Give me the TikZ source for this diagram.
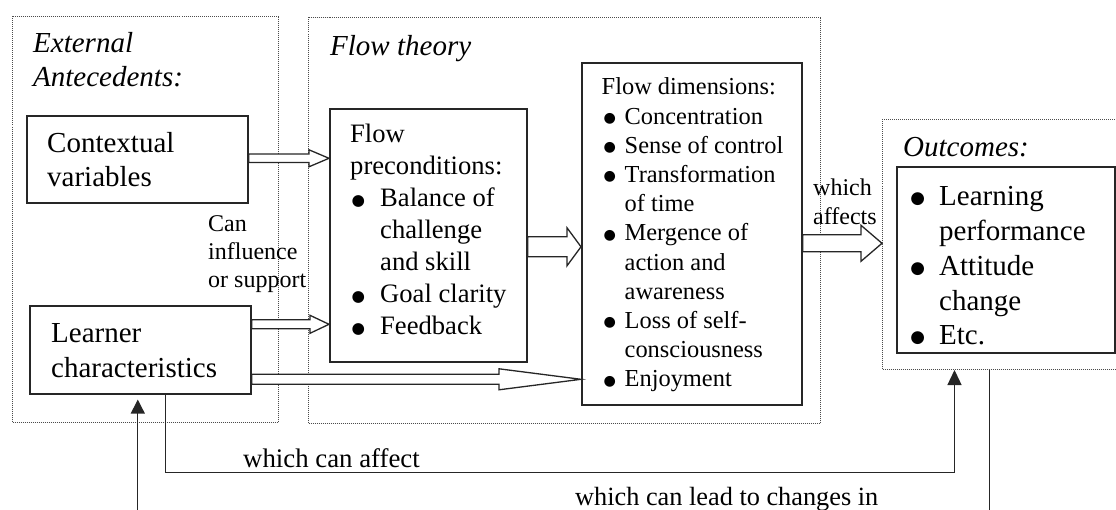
\documentclass[tikz,border=0pt]{standalone}
\usepackage{fontspec}
\setmainfont{Liberation Serif}
\newfontfamily\symfont{DejaVu Sans}
\usetikzlibrary{arrows.meta,calc}

% font size helper
\newcommand\fsz[2]{\fontsize{#1}{#2}\selectfont}
% left-aligned stack of lines, baseline at the first line
\newcommand\stack[1]{\begin{tabular}[t]{@{}l@{}}#1\end{tabular}}
% a large list bullet
\newcommand\bigdot{\raisebox{0.07em}{\symfont\fontsize{0.58em}{0.58em}\selectfont ●}}
% bullet list: #1 bullet column width, #2 bullet shift, #3 rows
\newcommand\blist[3]{{\def\bu{\hspace*{#2}\bigdot}%
  \begin{tabular}[t]{@{}p{#1}@{}l@{}}#3\end{tabular}}}
\newcommand\hd[1]{\multicolumn{2}{@{}l@{}}{#1}}

\tikzset{
  box/.style={draw=black!85, line width=1.6pt, inner sep=0pt, anchor=north west},
  grp/.style={draw=black!70, line width=1pt, dash pattern=on 1pt off 1pt,
              inner sep=0pt, anchor=north west},
  txt/.style={inner sep=0pt, anchor=base west},
  conn/.style={draw=black!85, line width=1.3pt},
  % hollow block arrow: shaft half-height, head half-height, head length
  barrow/.style n args={3}{draw=black!85, line width=1.3pt, fill=white,
    to path={let \p1=(\tikztostart), \p2=(\tikztotarget) in
      (\x1,\y1+#1) -- (\x2-#3,\y1+#1) -- (\x2-#3,\y1+#2) -- (\x2,\y1)
      -- (\x2-#3,\y1-#2) -- (\x2-#3,\y1-#1) -- (\x1,\y1-#1) -- cycle}},
}

\begin{document}
\begin{tikzpicture}[x=1pt, y=-1pt]
\useasboundingbox (0,0) rectangle (1116,510);
\clip (0,0) rectangle (1116,510);

% dotted groups
\node[grp, minimum width=266pt, minimum height=406pt] (ext)  at (12,16)  {};
\node[grp, minimum width=512pt, minimum height=406pt] (flo)  at (308,17) {};
\node[grp, minimum width=243pt, minimum height=250pt] (outg) at (882,119) {};

% solid boxes
\node[box, minimum width=221pt, minimum height=87pt]  (ctx) at (26,115) {};
\node[box, minimum width=221pt, minimum height=88pt]  (lrn) at (29,305) {};
\node[box, minimum width=197pt, minimum height=253pt] (pre) at (329,108) {};
\node[box, minimum width=220pt, minimum height=342pt] (dim) at (581,62) {};
\node[box, minimum width=218pt, minimum height=186pt] (out) at (896,166) {};

% block arrows
\draw[barrow={4.2}{8.5}{20}]  ([yshift=1pt]ctx.east)     to (pre.west);
\draw[barrow={4.5}{9}{19}]    ([yshift=25.5pt]lrn.east)  to (pre.west);
\draw[barrow={10}{19}{14}]    ([yshift=-11.5pt]pre.east) to (dim.west);
\draw[barrow={5}{10.5}{82}]   ([yshift=-29.5pt]lrn.east) to (dim.west);
\draw[barrow={8.5}{18}{21}]   ([yshift=-9.5pt]dim.east)  to (outg.west);

% feedback lines
\draw[conn, -{Triangle[length=15pt,width=14pt]}]
  ([xshift=25.5pt]lrn.south) -- ++(0,78) -| ([xshift=-49.5pt]outg.south);
\draw[conn, -{Triangle[length=14pt,width=14pt]}, shorten >=5pt]
  ([xshift=-14.5pt]outg.south) -- ++(0,150) -| ([xshift=-2.5pt]lrn.south);

% headings
\node[txt, font=\fsz{29}{34}\itshape] (extT) at (33,53)  {\stack{External\\Antecedents:}};
\node[txt, font=\fsz{29}{34}\itshape] (floT) at (330,56) {Flow theory};
\node[txt, font=\fsz{29}{34}\itshape] (outH) at (903,157) {Outcomes:};

% box texts
\node[txt, font=\fsz{29}{34}] (ctxT) at (47,153) {\stack{Contextual\\variables}};
\node[txt, font=\fsz{29}{35}] (lrnT) at (51,343) {\stack{Learner\\characteristics}};
\node[txt, font=\fsz{26.6}{32}] (preT) at (350,143)
  {\blist{30pt}{1.3pt}{\hd{Flow}\\ \hd{preconditions:}\\
   \bu & Balance of\\ & challenge\\ & and skill\\
   \bu & Goal clarity\\ \bu & Feedback}};
\node[txt, font=\fsz{24.4}{29.2}] (dimT) at (601.5,95)
  {\blist{23pt}{1.8pt}{\hd{Flow dimensions:}\\
   \bu & Concentration\\ \bu & Sense of control\\
   \bu & Transformation\\ & of time\\
   \bu & Mergence of\\ & action and\\ & awareness\\
   \bu & Loss of self-\\ & consciousness\\ \bu & Enjoyment}};
\node[txt, font=\fsz{29}{34.75}] (outT) at (909.2,206)
  {\blist{29.8pt}{1pt}{\bu & Learning\\ & performance\\
   \bu & Attitude\\ & change\\ \bu & Etc.}};

% connector labels
\node[txt, font=\fsz{24}{28}] (canT) at (208,232) {\stack{Can\\influence\\or support}};
\node[txt, font=\fsz{24}{29}] (affT) at (813,196) {\stack{which\\affects}};
\node[txt, font=\fsz{26.8}{30}] (wcaT) at (243,467) {which can affect};
\node[txt, font=\fsz{26.3}{30}] (wclT) at (575,505) {which can lead to changes in};
\end{tikzpicture}
\end{document}
